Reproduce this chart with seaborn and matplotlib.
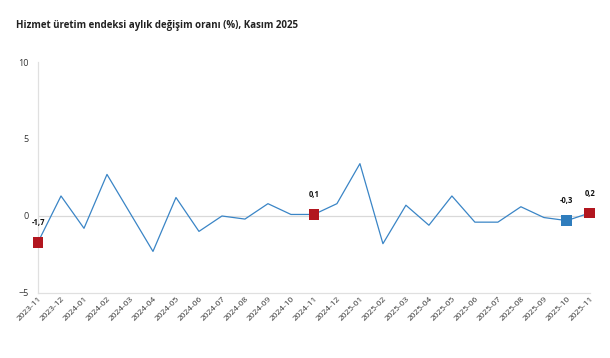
import numpy as np
import pandas as pd
import matplotlib
matplotlib.use('Agg')
import matplotlib.pyplot as plt
import seaborn as sns

# data
aylar = ['2023-11', '2023-12', '2024-01', '2024-02', '2024-03', '2024-04', '2024-05',
         '2024-06', '2024-07', '2024-08', '2024-09', '2024-10', '2024-11', '2024-12',
         '2025-01', '2025-02', '2025-03', '2025-04', '2025-05', '2025-06', '2025-07',
         '2025-08', '2025-09', '2025-10', '2025-11']
degisim = [-1.7, 1.3, -0.8, 2.7, 0.2, -2.3, 1.2,
           -1.0, 0.0, -0.2, 0.8, 0.1, 0.1, 0.8,
           3.4, -1.8, 0.7, -0.6, 1.3, -0.4, -0.4,
           0.6, -0.1, -0.3, 0.2]
vurgu_aylar = ['2023-11', '2024-11', '2025-10', '2025-11']
vurgu_tip = ['kirmizi', 'kirmizi', 'mavi', 'kirmizi']

line_color = '#3a85c6'
palette = {'kirmizi': '#b2161f', 'mavi': '#2f7dbd'}

df = pd.DataFrame({'ay': aylar, 'deger': degisim})
vurgu = df[df['ay'].isin(vurgu_aylar)].copy()
vurgu['tip'] = vurgu_tip

sns.set_theme(style='white')
plt.rcParams['font.family'] = ['Open Sans', 'DejaVu Sans']

fig = plt.figure(figsize=(6.1, 3.58), dpi=100)
ax = fig.add_axes([0.0623, 0.1816, 0.9047, 0.6452])

sns.lineplot(data=df, x='ay', y='deger', sort=False, color=line_color, linewidth=0.9, ax=ax)
sns.scatterplot(data=vurgu, x='ay', y='deger', hue='tip', palette=palette, marker='s',
                s=60, edgecolor='none', legend=False, ax=ax, zorder=5, clip_on=False)

for _, r in vurgu.iterrows():
    ax.annotate(f"{r['deger']:.1f}".replace('.', ','), (r['ay'], r['deger']),
                xytext=(0, 11), textcoords='offset points', ha='center', va='bottom',
                fontsize=5.5, fontweight='bold', color='#111111', annotation_clip=False)

ax.set_xlim(0, len(aylar) - 1)
ax.set_ylim(-5, 10)
ax.set_yticks([-5, 0, 5, 10])
ax.axhline(0, color='#d9d9d9', linewidth=0.9, zorder=0)

for s in ['top', 'right']:
    ax.spines[s].set_visible(False)
for s in ['left', 'bottom']:
    ax.spines[s].set_color('#e0e0e0')
    ax.spines[s].set_linewidth(0.9)

ax.tick_params(axis='y', length=0, labelsize=6.5, colors='#333333', pad=7)
ax.tick_params(axis='x', length=0, labelsize=6, colors='#333333', pad=2)
plt.setp(ax.get_xticklabels(), rotation=45, ha='right', rotation_mode='anchor')
ax.set_xlabel('')
ax.set_ylabel('')

fig.text(0.026, 0.928, 'Hizmet üretim endeksi aylık değişim oranı (%), Kasım 2025',
         fontsize=7, fontweight='bold', color='#222222', va='center')

fig.savefig('out.png', dpi=100, facecolor='white')
